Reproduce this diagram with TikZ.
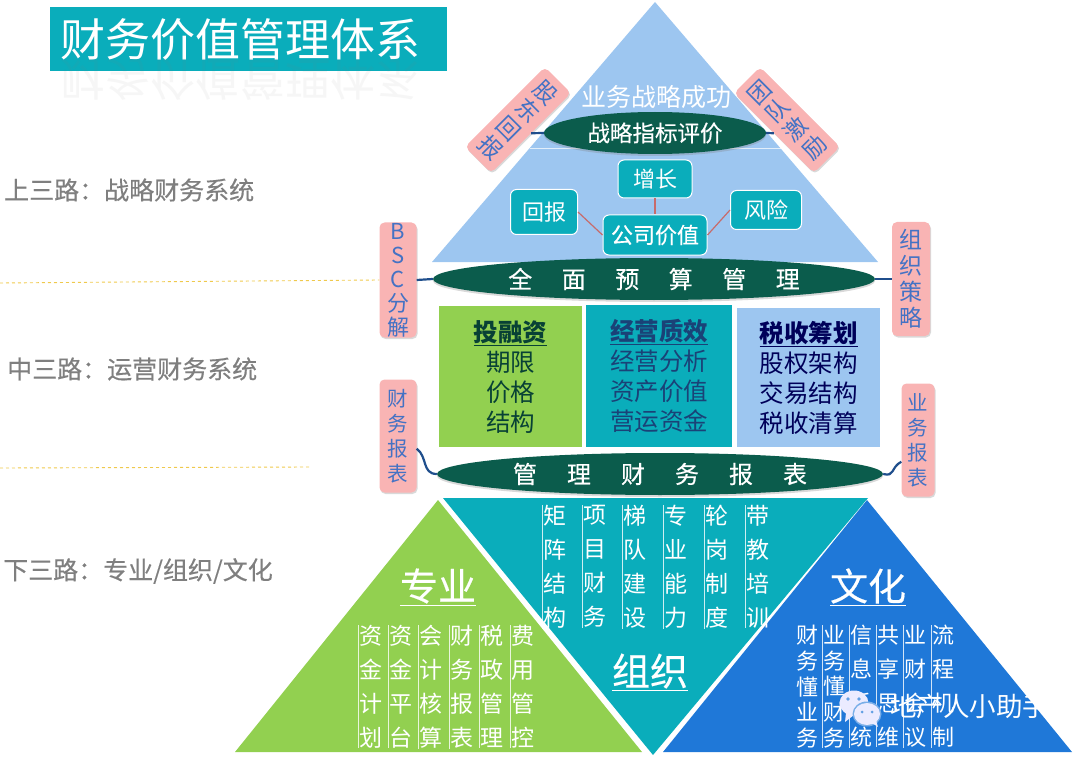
\documentclass[tikz,border=0pt]{standalone}
\usepackage{fontspec}
\usepackage{tikz}
\usetikzlibrary{shapes.geometric,shadows}
\setmainfont{Noto Sans CJK SC}
\newfontfamily\semi[FakeBold=0.35]{Noto Sans CJK SC}

\definecolor{skyfill}{HTML}{9DC6F0}
\definecolor{tealfill}{HTML}{0AADBB}
\definecolor{leaffill}{HTML}{92D050}
\definecolor{bluefill}{HTML}{1F78D8}
\definecolor{pinefill}{HTML}{0B5C4C}
\definecolor{pinkfill}{HTML}{F9B4B4}
\definecolor{pinktext}{HTML}{4472C4}
\definecolor{linkblue}{HTML}{1F4E8C}
\definecolor{greytext}{HTML}{7F7F7F}
\definecolor{dashgold}{HTML}{EFC94C}
\newcommand{\fs}[2]{\fontsize{#1}{#2}\selectfont}

\tikzset{
  band/.style={ellipse,fill=pinefill,text=white,inner sep=0pt,minimum height=42pt,font=\fs{24}{28}\semi,
    drop shadow={opacity=.3,shadow xshift=0pt,shadow yshift=-2pt}},
  tag/.style={rectangle,rounded corners=5pt,fill=pinkfill,text=pinktext,align=center,inner sep=0pt,
    drop shadow={opacity=.3,shadow xshift=1pt,shadow yshift=-1.5pt}},
  value/.style={rectangle,rounded corners=6pt,draw=white,line width=1pt,fill=tealfill,text=white,
    inner sep=0pt,font=\fs{22}{26}},
  panel/.style={rectangle,anchor=north west,align=center,inner sep=0pt,font=\fs{24.5}{30}},
  cell/.style={anchor=north west,text=white,align=center,inner xsep=1pt,inner ysep=0pt,font=\fs{23}{34},
    append after command={(\tikzlastnode.north west) edge[white,opacity=.8,line width=.6pt] (\tikzlastnode.south west)}},
  thincell/.style={cell,font=\fs{22}{25.7}},
  nocell/.style={anchor=north west,text=white,align=center,inner xsep=1pt,inner ysep=0pt,font=\fs{22}{25.7}},
  head/.style={text=white,inner sep=0pt,font=\fs{38}{40}\semi},
  side/.style={anchor=west,text=greytext,inner sep=0pt,font=\fs{25}{30}\semi},
  link/.style={linkblue,line width=2.2pt},
  spoke/.style={draw=red!45!gray!80,line width=1.2pt},
  wechat/.style={fill=blue!8!white},
  dot/.style={fill=bluefill!70!white}
}

\begin{document}
\begin{tikzpicture}[x=1pt,y=-1pt]
\useasboundingbox (0,0) rectangle (1080,757);

% title
\node[rectangle,anchor=north west,fill=tealfill,minimum width=397pt,minimum height=64pt] (titlebox) at (50,7) {};
\node[anchor=west,text=white,inner sep=0pt,font=\fs{45}{50}] (title) at (60,39) {财务价值管理体系};
\node[anchor=west,text=gray,opacity=.07,yscale=-1,transform shape,inner sep=0pt,font=\fs{45}{50}] (titlemirror) at (60,80) {财务价值管理体系};

% left side
\node[side] (upper) at (4,190) {上三路：战略财务系统};
\node[side] (middle) at (7,369) {中三路：运营财务系统};
\node[side] (lower) at (3,571) {下三路：专业/组织/文化};
\coordinate (dashA) at (0,283);
\coordinate (dashB) at (0,468);
\coordinate (dashC) at (310,467);

% top triangle
\fill[skyfill] (655,2) -- (432,262) -- (878,262) -- cycle;
\draw[white,opacity=.7] (530,148) -- (782,148);
\node[text=white,inner sep=0pt,font=\fs{25}{30}] (success) at (656,97) {业务战略成功};
\node[band,minimum width=222pt,minimum height=42pt,font=\fs{22.5}{26}\semi] (strategy) at (655,133) {战略指标评价};
\node[tag,rotate=-45,minimum width=37pt,minimum height=113pt,font=\fs{23}{26}] (holder) at (518,120) {股\\东\\回\\报};
\node[tag,rotate=45,minimum width=37pt,minimum height=113pt,font=\fs{23}{26}] (team) at (787,120) {团\\队\\激\\励};
\node[value,minimum width=74pt,minimum height=38pt] (grow) at (655,179) {增长};
\node[value,minimum width=67pt,minimum height=45pt] (back) at (544,212) {回报};
\node[value,minimum width=71pt,minimum height=39pt] (risk) at (766,210) {风险};
\node[value,minimum width=104pt,minimum height=40pt,font=\fs{22}{26}\semi] (worth) at (655,235) {公司价值};
\draw[spoke] (grow) -- (worth);
\draw[spoke] (back.east) -- (worth.west);
\draw[spoke] (risk.west) -- (worth.east);

% budget band
\node[band,minimum width=442pt] (budget) at (654,279) {全\hspace{29.5pt}面\hspace{29.5pt}预\hspace{29.5pt}算\hspace{29.5pt}管\hspace{29.5pt}理};
\node[tag,minimum width=37pt,minimum height=115pt,font=\fs{22}{24}] (bsc) at (398,280) {B\\S\\C\\分\\解};
\node[tag,minimum width=38pt,minimum height=114pt,font=\fs{23}{26}] (tactic) at (911,279) {组\\织\\策\\略};

% three panels
\node[panel,fill=leaffill,text=pinefill!70!black,minimum width=143pt,minimum height=141pt] (finance) at (439,306)
  {\bfseries\underline{投融资}\\期限\\价格\\结构};
\node[panel,fill=tealfill,text=linkblue!85!black,minimum width=146pt,minimum height=142pt] (operate) at (586,305)
  {\bfseries\underline{经营质效}\\经营分析\\资产价值\\营运资金};
\node[panel,fill=skyfill,text=blue!35!black,minimum width=143pt,minimum height=139pt] (tax) at (737,308)
  {\bfseries\underline{税收筹划}\\股权架构\\交易结构\\税收清算};

% report band
\node[band,minimum width=446pt] (report) at (660,474) {管\hspace{30pt}理\hspace{30pt}财\hspace{30pt}务\hspace{30pt}报\hspace{30pt}表};
\node[tag,minimum width=37pt,minimum height=113pt,font=\fs{20.5}{25}] (books) at (398,436) {财\\务\\报\\表};
\node[tag,minimum width=33pt,minimum height=113pt,font=\fs{20.5}{25}] (biz) at (918,440) {业\\务\\报\\表};

% links to the bands
\draw[link] (holder.east) -- (strategy.west);
\draw[link] (strategy.east) -- (team.west);
\draw[link] (bsc.east) -- (budget.west);
\draw[link] (budget.east) -- (tactic.west);
\draw[link] ([yshift=44pt]books.south east) .. controls +(11,8) and +(-15,0) .. (report.west);
\draw[link] ([yshift=35pt]biz.south west) .. controls +(-11,6) and +(12,3) .. (report.east);
\draw[dashed,dashgold,line width=.9pt] (dashA) -- (bsc.west);
\draw[dashed,dashgold,line width=.9pt] (dashB) -- (dashC);

% bottom triangles
\fill[tealfill] (443,498) -- (868,498) -- (653,755) -- cycle;
\fill[leaffill] (438,500) -- (235,752) -- (642,752) -- cycle;
\fill[bluefill] (867,500) -- (663,752) -- (1072,752) -- cycle;

\node[head] (craft) at (438,587) {\underline{专业}};
\node[head] (group) at (650,672) {\underline{组织}};
\node[head] (culture) at (868,587) {\underline{文化}};

% craft columns
\node[cell] (craftA) at (358,625) {资\\金\\计\\划};
\node[cell] (craftB) at (388,625) {资\\金\\平\\台};
\node[cell] (craftC) at (418,625) {会\\计\\核\\算};
\node[cell] (craftD) at (449,625) {财\\务\\报\\表};
\node[cell] (craftE) at (479,625) {税\\政\\管\\理};
\node[cell] (craftF) at (510,625) {费\\用\\管\\控};

% group columns
\node[cell] (groupA) at (542,505) {矩\\阵\\结\\构};
\node[cell] (groupB) at (582,505) {项\\目\\财\\务};
\node[cell] (groupC) at (622,505) {梯\\队\\建\\设};
\node[cell] (groupD) at (663,505) {专\\业\\能\\力};
\node[cell] (groupE) at (704,505) {轮\\岗\\制\\度};
\node[cell] (groupF) at (745,505) {带\\教\\培\\训};

% culture columns
\node[nocell] (cultureA) at (795,625) {财\\务\\懂\\业\\务};
\node[thincell] (cultureB) at (822,625) {业\\务\\懂\\财\\务};
\node[cell,font=\fs{22}{34}] (cultureC) at (849,625) {信\\息\\系\\统};
\node[cell,font=\fs{22}{34}] (cultureD) at (876,625) {共\\享\\思\\维};
\node[cell,font=\fs{22}{34}] (cultureE) at (903,625) {业\\财\\会\\议};
\node[cell,font=\fs{22}{34}] (cultureF) at (931,625) {流\\程\\机\\制};

% watermark
\fill[wechat] (854,703) ellipse (14.5pt and 12.5pt);
\fill[wechat] (846,713) -- (845,722) -- (854,715) -- cycle;
\fill[bluefill!60!white] (867,714) ellipse (14.5pt and 12.5pt);
\fill[wechat] (867,714) ellipse (13pt and 11pt);
\fill[wechat] (872,723) -- (878,727) -- (876,720) -- cycle;
\fill[dot] (848,699) circle (1.8pt);
\fill[dot] (859,699) circle (1.8pt);
\fill[dot] (862,712) circle (1.5pt);
\fill[dot] (872,712) circle (1.5pt);
\node[anchor=west,text=white,inner sep=0pt,font=\fs{26.5}{30}] (mark) at (890,707) {地产人小助手};
\end{tikzpicture}
\end{document}
